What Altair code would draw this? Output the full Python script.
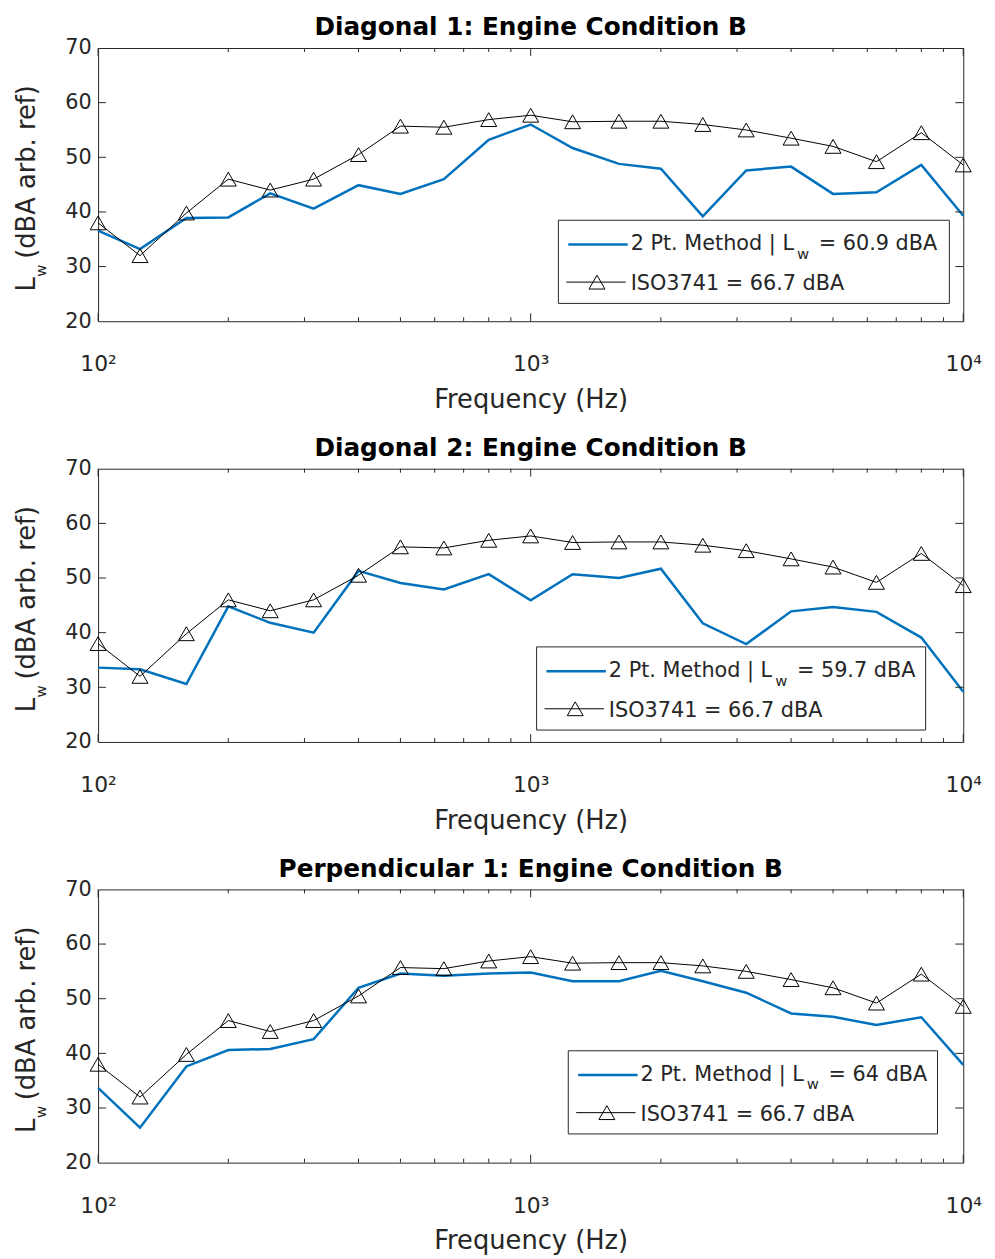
import altair as alt
import pandas as pd

# ---- data (1/3-octave bands) ----
freq = [100, 125, 160, 200, 250, 315, 400, 500, 630, 800, 1000, 1250, 1600,
        2000, 2500, 3150, 4000, 5000, 6300, 8000, 10000]
iso3741 = [38.0, 32.0, 39.8, 46.0, 44.0, 46.0, 50.5, 55.7, 55.5, 56.9, 57.7,
           56.5, 56.6, 56.6, 56.0, 55.0, 53.5, 52.0, 49.2, 54.5, 48.6]
diag1 = [36.6, 33.2, 38.9, 39.0, 43.4, 40.6, 44.9, 43.3, 46.0, 53.2, 56.0,
         51.7, 48.8, 47.9, 39.2, 47.6, 48.3, 43.3, 43.6, 48.6, 39.3]
diag2 = [33.6, 33.3, 30.6, 44.8, 41.8, 40.0, 51.3, 49.1, 47.9, 50.7, 45.9,
         50.7, 50.0, 51.7, 41.7, 37.9, 43.9, 44.7, 43.8, 39.1, 29.2]
perp1 = [33.7, 26.4, 37.6, 40.6, 40.8, 42.6, 52.0, 54.6, 54.2, 54.6, 54.8,
         53.2, 53.2, 55.1, 53.2, 51.1, 47.3, 46.7, 45.2, 46.6, 37.9]

titles = ["Diagonal 1: Engine Condition B",
          "Diagonal 2: Engine Condition B",
          "Perpendicular 1: Engine Condition B"]
lw_values = ["60.9", "59.7", "64"]
iso_label = "ISO3741 = 66.7 dBA"

y_ticks = [20, 30, 40, 50, 60, 70]
y_inner_ticks = [30, 40, 50, 60]
x_major = [100, 1000, 10000]
x_minor = [200, 300, 400, 500, 600, 700, 800, 900,
           2000, 3000, 4000, 5000, 6000, 7000, 8000, 9000]

# ---- style ----
W, H = 874, 276
FONT = "DejaVu Sans"
TXT = "#262626"
BLUE = "#0072BD"
# legend box (left, top, width) in plot coordinates
legend_boxes = [(465, 174, 395), (443, 180, 393), (475, 163, 373)]


def panel(title, series, lw, box):
    df = pd.DataFrame({"f": freq, "two": series, "iso": iso3741})
    xs = alt.Scale(type="log", domain=[100, 10000], nice=False)
    ys = alt.Scale(domain=[20, 70], nice=False, zero=False)
    xax = alt.Axis(values=x_major,
                   labelExpr="datum.value == 100 ? '10²' : datum.value == 1000 ? '10³' : '10⁴'",
                   ticks=False, domain=False, grid=False, labelFlush=False,
                   labelFont=FONT, labelFontSize=22, labelColor=TXT,
                   labelPadding=33,
                   title="Frequency (Hz)", titleFont=FONT, titleFontSize=26,
                   titleFontWeight="normal", titleColor=TXT,
                   titleBaseline="alphabetic", titleY=87)
    yax = alt.Axis(values=y_ticks, ticks=False, domain=False, grid=False,
                   labelFont=FONT, labelFontSize=21, labelColor=TXT,
                   labelPadding=7, title=None)
    X = alt.X("f:Q", scale=xs, axis=xax)

    base = alt.Chart(df)
    blue = base.mark_line(color=BLUE, strokeWidth=2.5).encode(
        x=X, y=alt.Y("two:Q", scale=ys, axis=yax))
    black = base.mark_line(color="black", strokeWidth=1).encode(
        x=X, y=alt.Y("iso:Q", scale=ys, axis=yax))
    tri = base.mark_point(shape="triangle-up", filled=False, color="black",
                          size=260, strokeWidth=1, opacity=1).encode(
        x=X, y=alt.Y("iso:Q", scale=ys, axis=yax))

    # inward ticks
    mn = alt.Chart(pd.DataFrame({"f": x_minor}))
    mj = alt.Chart(pd.DataFrame({"f": x_major}))
    yt = alt.Chart(pd.DataFrame({"v": y_inner_ticks}))
    tick_layers = [
        mn.mark_rule(color=TXT, strokeWidth=1).encode(x=X, y=alt.value(H), y2=alt.value(H - 4)),
        mn.mark_rule(color=TXT, strokeWidth=1).encode(x=X, y=alt.value(0), y2=alt.value(4)),
        mj.mark_rule(color=TXT, strokeWidth=1).encode(x=X, y=alt.value(H), y2=alt.value(H - 8)),
        mj.mark_rule(color=TXT, strokeWidth=1).encode(x=X, y=alt.value(0), y2=alt.value(8)),
        yt.mark_rule(color=TXT, strokeWidth=1).encode(
            y=alt.Y("v:Q", scale=ys, axis=yax), x=alt.value(0), x2=alt.value(8)),
        yt.mark_rule(color=TXT, strokeWidth=1).encode(
            y=alt.Y("v:Q", scale=ys, axis=yax), x=alt.value(W), x2=alt.value(W - 8)),
    ]

    # y-axis title with subscript
    one = alt.Chart(pd.DataFrame({"a": [0]}))
    ytitle = [
        one.mark_text(text="L", angle=270, align="left", baseline="middle",
                      font=FONT, fontSize=26, color=TXT).encode(
            x=alt.value(-72), y=alt.value(246)),
        one.mark_text(text="w", angle=270, align="left", baseline="middle",
                      font=FONT, fontSize=15, color=TXT).encode(
            x=alt.value(-58), y=alt.value(231)),
        one.mark_text(text="(dBA arb. ref)", angle=270, align="left", baseline="middle",
                      font=FONT, fontSize=26, color=TXT).encode(
            x=alt.value(-72), y=alt.value(213)),
    ]

    # legend
    lx, ly, lwid = box
    tx = lx + 73
    leg = [
        one.mark_rect(fill="white", stroke=TXT, strokeWidth=1).encode(
            x=alt.value(lx), x2=alt.value(lx + lwid), y=alt.value(ly), y2=alt.value(ly + 84)),
        one.mark_rule(color=BLUE, strokeWidth=2.5).encode(
            x=alt.value(lx + 10), x2=alt.value(lx + 70), y=alt.value(ly + 24.5)),
        one.mark_rule(color="black", strokeWidth=1).encode(
            x=alt.value(lx + 8), x2=alt.value(lx + 68), y=alt.value(ly + 62.5)),
        one.mark_point(shape="triangle-up", filled=False, color="black", size=260,
                       strokeWidth=1, opacity=1).encode(
            x=alt.value(lx + 39), y=alt.value(ly + 62.5)),
        one.mark_text(text="2 Pt. Method | L", align="left", baseline="alphabetic",
                      font=FONT, fontSize=21, color=TXT).encode(
            x=alt.value(tx), y=alt.value(ly + 30.5)),
        one.mark_text(text="w", align="left", baseline="alphabetic",
                      font=FONT, fontSize=15, color=TXT).encode(
            x=alt.value(tx + 168), y=alt.value(ly + 39)),
        one.mark_text(text="= " + lw + " dBA", align="left", baseline="alphabetic",
                      font=FONT, fontSize=21, color=TXT).encode(
            x=alt.value(tx + 190), y=alt.value(ly + 30.5)),
        one.mark_text(text=iso_label, align="left", baseline="alphabetic",
                      font=FONT, fontSize=21, color=TXT).encode(
            x=alt.value(tx), y=alt.value(ly + 70.5)),
    ]

    layers = [blue, black, tri] + tick_layers + ytitle + leg
    return alt.layer(*layers).properties(
        width=W, height=H,
        title=alt.TitleParams(title, font=FONT, fontSize=25, fontWeight="bold",
                              color="black", offset=-3, anchor="middle",
                              frame="group"))


panels = [panel(t, s, l, b) for t, s, l, b in
          zip(titles, [diag1, diag2, perp1], lw_values, legend_boxes)]

chart = alt.vconcat(*panels, spacing=22).properties(
    padding={"top": 0, "left": 5, "right": 5, "bottom": 5}
).configure(
    background="white",
    view=alt.ViewConfig(stroke=TXT, strokeWidth=1))

chart.save("out.html", embed_options={"renderer": "svg", "actions": False})
